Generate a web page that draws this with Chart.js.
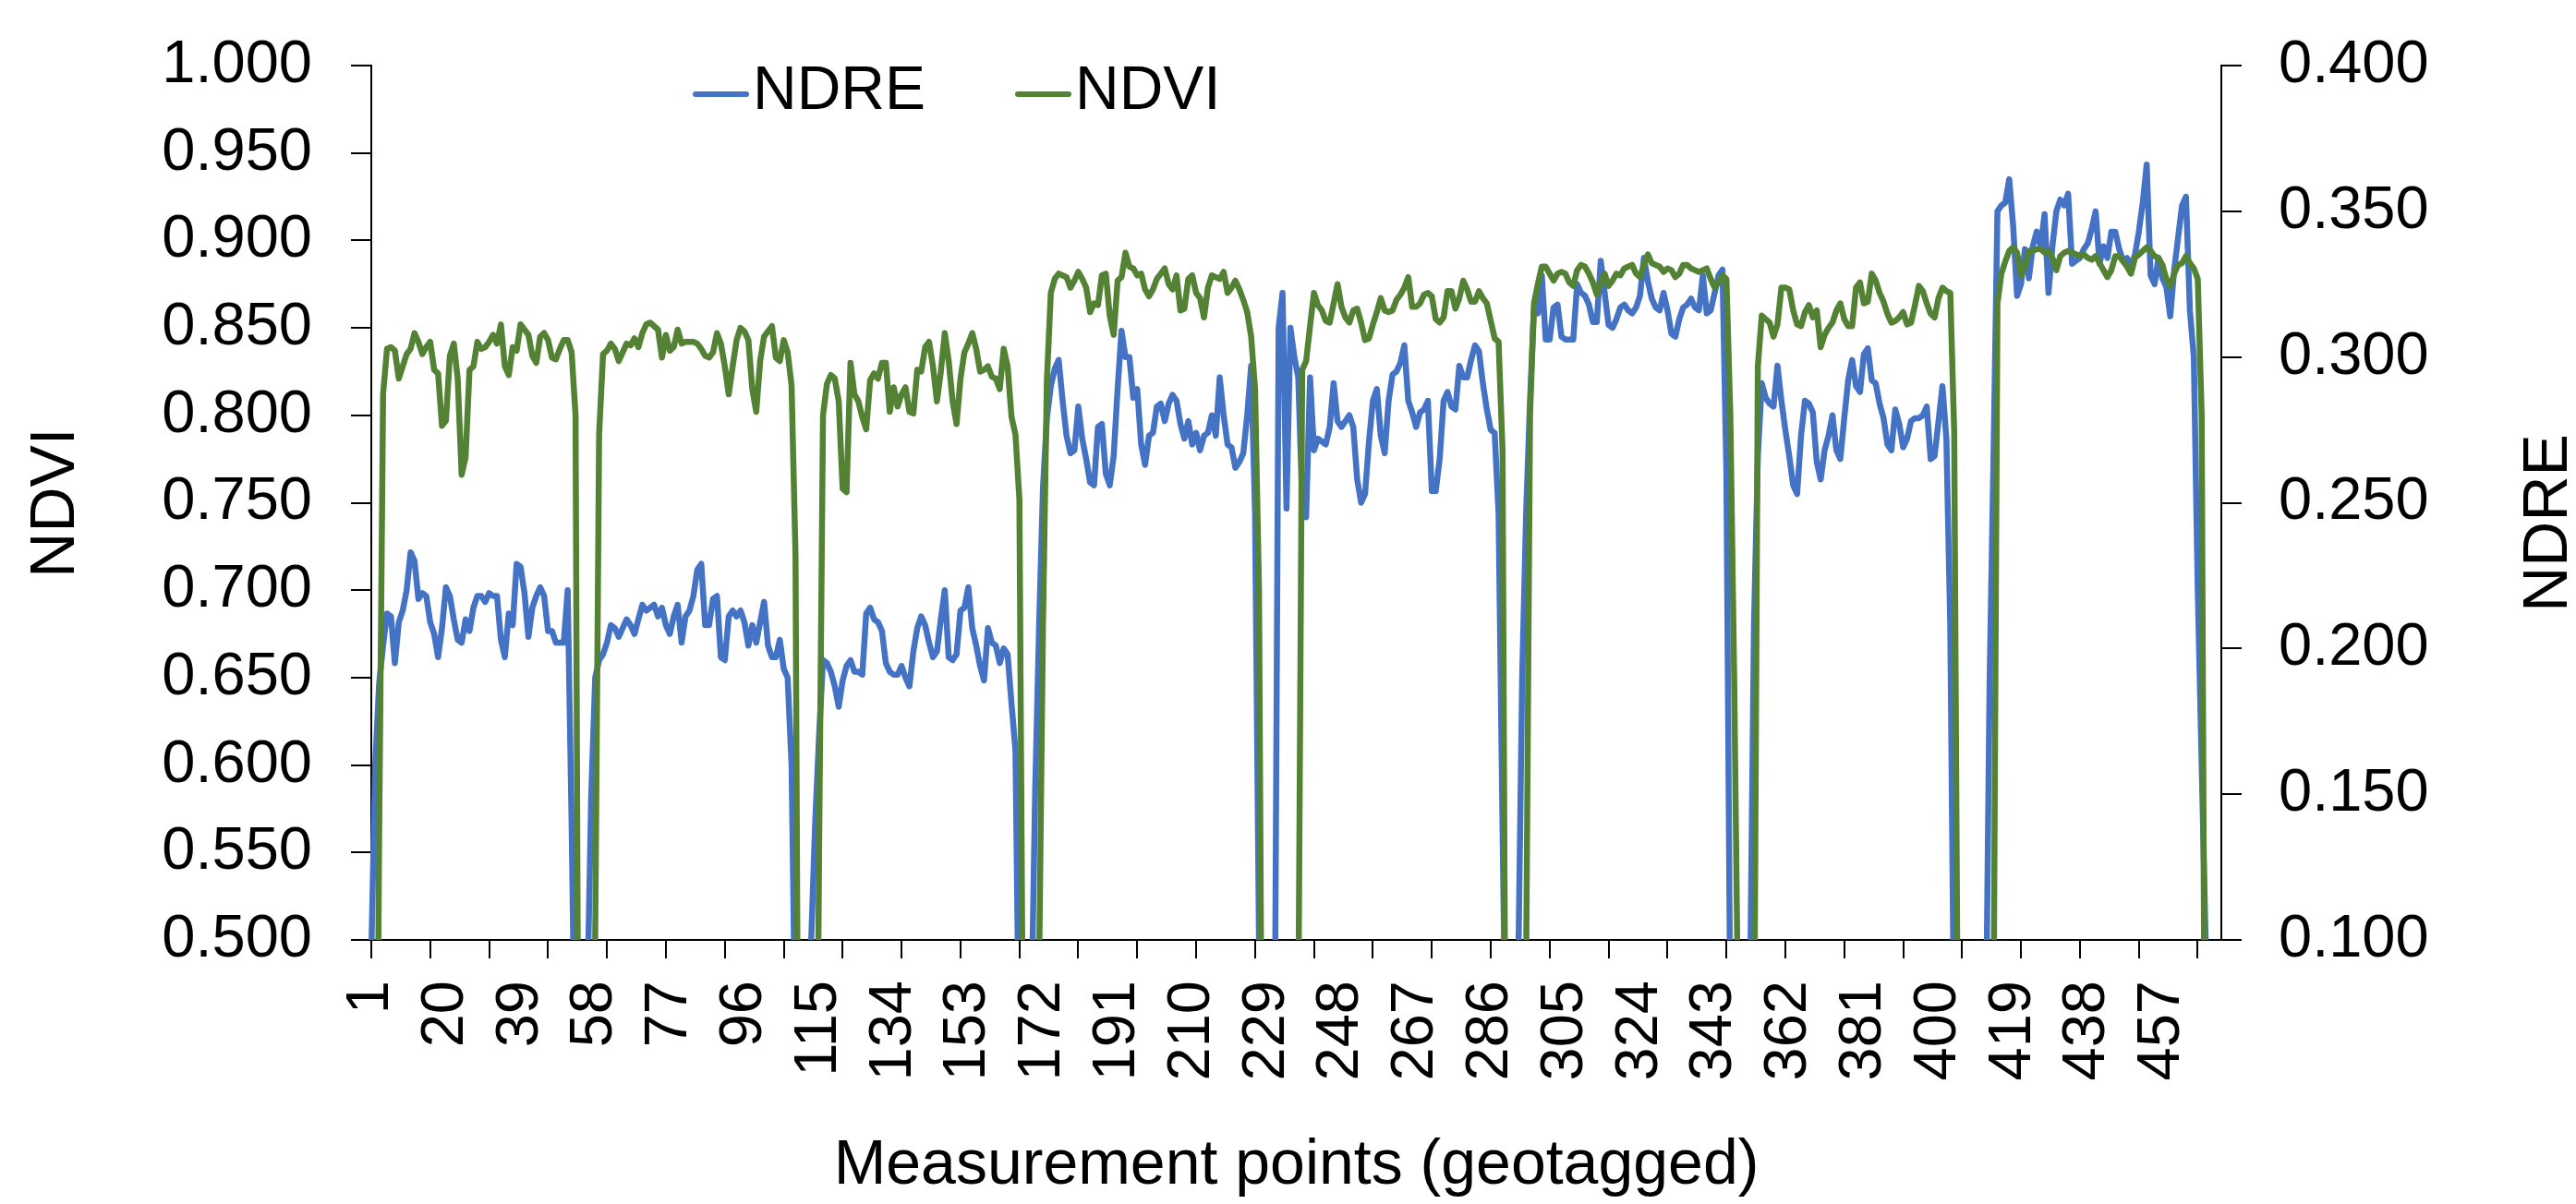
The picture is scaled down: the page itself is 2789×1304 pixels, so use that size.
<!DOCTYPE html>
<html>
<head>
<meta charset="utf-8">
<title>NDVI and NDRE along the measurement points</title>
<script src="https://cdn.jsdelivr.net/npm/chart.js@4.4.1/dist/chart.umd.min.js"></script>
<style>
  html, body { margin: 0; padding: 0; background: #fff; }
  #wrap { width: 2789px; height: 1304px; }
</style>
</head>
<body>
<div id="wrap"><canvas id="chart" width="2789" height="1304"></canvas></div>
<script>
// NDVI per geotagged point (left axis); values under 0.500 fall in the gaps between plots
const ndvi = [
  0.25, 0.25, 0.56, 0.812, 0.838, 0.839, 0.837, 0.821, 0.828, 0.835,
  0.838, 0.847, 0.842, 0.835, 0.839, 0.842, 0.826, 0.824, 0.794, 0.797,
  0.834, 0.841, 0.821, 0.766, 0.776, 0.826, 0.828, 0.842, 0.838, 0.839,
  0.842, 0.846, 0.841, 0.852, 0.828, 0.823, 0.839, 0.837, 0.852, 0.849,
  0.846, 0.834, 0.830, 0.845, 0.847, 0.843, 0.833, 0.832, 0.838, 0.843,
  0.843, 0.836, 0.800, 0.25, 0.25, 0.25, 0.25, 0.50, 0.789, 0.835,
  0.837, 0.841, 0.838, 0.831, 0.836, 0.841, 0.840, 0.844, 0.839, 0.847,
  0.852, 0.853, 0.851, 0.849, 0.833, 0.846, 0.837, 0.839, 0.849, 0.841,
  0.842, 0.842, 0.842, 0.841, 0.838, 0.834, 0.833, 0.836, 0.847, 0.841,
  0.828, 0.812, 0.828, 0.843, 0.850, 0.848, 0.843, 0.815, 0.802, 0.831,
  0.845, 0.848, 0.851, 0.833, 0.831, 0.843, 0.836, 0.817, 0.720, 0.25,
  0.25, 0.25, 0.25, 0.25, 0.55, 0.800, 0.818, 0.823, 0.821, 0.808,
  0.758, 0.756, 0.830, 0.812, 0.808, 0.799, 0.792, 0.820, 0.824, 0.821,
  0.830, 0.830, 0.802, 0.816, 0.805, 0.812, 0.816, 0.802, 0.801, 0.826,
  0.825, 0.839, 0.842, 0.828, 0.808, 0.825, 0.847, 0.831, 0.808, 0.795,
  0.821, 0.836, 0.841, 0.847, 0.838, 0.825, 0.826, 0.828, 0.822, 0.821,
  0.815, 0.838, 0.828, 0.799, 0.789, 0.752, 0.40, 0.25, 0.25, 0.25,
  0.48, 0.68, 0.82, 0.870, 0.878, 0.881, 0.880, 0.879, 0.873, 0.877,
  0.882, 0.878, 0.873, 0.859, 0.864, 0.863, 0.880, 0.881, 0.857, 0.846,
  0.877, 0.879, 0.893, 0.885, 0.884, 0.880, 0.881, 0.872, 0.868, 0.872,
  0.878, 0.881, 0.884, 0.875, 0.872, 0.880, 0.860, 0.861, 0.878, 0.880,
  0.870, 0.867, 0.856, 0.873, 0.880, 0.879, 0.878, 0.882, 0.870, 0.873,
  0.877, 0.872, 0.866, 0.859, 0.845, 0.815, 0.700, 0.30, 0.25, 0.25,
  0.25, 0.25, 0.25, 0.25, 0.25, 0.25, 0.45, 0.826, 0.831, 0.851,
  0.870, 0.863, 0.860, 0.854, 0.853, 0.864, 0.875, 0.862, 0.856, 0.853,
  0.860, 0.861, 0.853, 0.843, 0.844, 0.852, 0.859, 0.867, 0.860, 0.859,
  0.860, 0.866, 0.869, 0.873, 0.879, 0.862, 0.862, 0.864, 0.869, 0.870,
  0.868, 0.855, 0.853, 0.856, 0.871, 0.871, 0.861, 0.867, 0.877, 0.872,
  0.865, 0.865, 0.871, 0.867, 0.864, 0.854, 0.844, 0.842, 0.780, 0.30,
  0.25, 0.25, 0.25, 0.25, 0.48, 0.800, 0.864, 0.875, 0.885, 0.885,
  0.881, 0.877, 0.881, 0.882, 0.881, 0.876, 0.874, 0.883, 0.886, 0.885,
  0.881, 0.876, 0.869, 0.876, 0.881, 0.874, 0.877, 0.881, 0.880, 0.884,
  0.885, 0.886, 0.881, 0.879, 0.886, 0.892, 0.887, 0.886, 0.885, 0.882,
  0.884, 0.883, 0.879, 0.881, 0.886, 0.886, 0.884, 0.883, 0.882, 0.883,
  0.884, 0.878, 0.873, 0.876, 0.880, 0.878, 0.800, 0.646, 0.45, 0.25,
  0.25, 0.25, 0.40, 0.828, 0.857, 0.855, 0.853, 0.845, 0.852, 0.873,
  0.873, 0.872, 0.860, 0.852, 0.851, 0.859, 0.863, 0.856, 0.860, 0.839,
  0.846, 0.850, 0.853, 0.860, 0.864, 0.855, 0.851, 0.851, 0.873, 0.876,
  0.864, 0.865, 0.881, 0.877, 0.870, 0.865, 0.858, 0.853, 0.854, 0.856,
  0.859, 0.852, 0.853, 0.863, 0.874, 0.871, 0.864, 0.858, 0.856, 0.867,
  0.873, 0.871, 0.870, 0.790, 0.40, 0.25, 0.25, 0.25, 0.25, 0.25,
  0.25, 0.25, 0.25, 0.45, 0.864, 0.881, 0.888, 0.894, 0.896, 0.893,
  0.880, 0.885, 0.894, 0.894, 0.895, 0.895, 0.893, 0.894, 0.890, 0.883,
  0.891, 0.893, 0.894, 0.893, 0.892, 0.891, 0.892, 0.890, 0.889, 0.891,
  0.887, 0.883, 0.879, 0.883, 0.891, 0.891, 0.888, 0.885, 0.881, 0.890,
  0.892, 0.894, 0.896, 0.894, 0.891, 0.890, 0.886, 0.878, 0.874, 0.881,
  0.886, 0.887, 0.891, 0.887, 0.884, 0.878, 0.800, 0.30, 0.25, 0.25,
  0.25, 0.25
];

// NDRE per geotagged point (right axis)
const ndre = [
  0.095, 0.160, 0.188, 0.201, 0.212, 0.211, 0.195, 0.209, 0.213, 0.220,
  0.233, 0.230, 0.217, 0.219, 0.218, 0.209, 0.205, 0.197, 0.207, 0.221,
  0.218, 0.210, 0.203, 0.202, 0.210, 0.206, 0.214, 0.218, 0.218, 0.216,
  0.219, 0.218, 0.218, 0.203, 0.197, 0.212, 0.208, 0.229, 0.228, 0.219,
  0.204, 0.214, 0.218, 0.221, 0.218, 0.206, 0.206, 0.202, 0.202, 0.202,
  0.220, 0.140, 0.04, 0.04, 0.04, 0.08, 0.15, 0.19, 0.196, 0.198,
  0.202, 0.208, 0.207, 0.204, 0.207, 0.210, 0.208, 0.205, 0.210, 0.215,
  0.213, 0.214, 0.215, 0.211, 0.214, 0.208, 0.205, 0.211, 0.215, 0.202,
  0.211, 0.213, 0.218, 0.227, 0.229, 0.208, 0.208, 0.217, 0.218, 0.197,
  0.196, 0.211, 0.213, 0.211, 0.213, 0.209, 0.201, 0.208, 0.202, 0.209,
  0.216, 0.201, 0.197, 0.197, 0.203, 0.193, 0.190, 0.160, 0.06, 0.04,
  0.04, 0.04, 0.10, 0.14, 0.17, 0.196, 0.195, 0.192, 0.187, 0.180,
  0.189, 0.194, 0.196, 0.192, 0.192, 0.191, 0.212, 0.214, 0.210, 0.209,
  0.206, 0.195, 0.192, 0.191, 0.191, 0.194, 0.190, 0.187, 0.199, 0.207,
  0.211, 0.208, 0.202, 0.197, 0.199, 0.210, 0.220, 0.197, 0.196, 0.198,
  0.213, 0.214, 0.221, 0.207, 0.201, 0.194, 0.189, 0.207, 0.202, 0.201,
  0.195, 0.200, 0.198, 0.181, 0.165, 0.05, 0.04, 0.04, 0.07, 0.15,
  0.207, 0.255, 0.279, 0.290, 0.296, 0.299, 0.285, 0.273, 0.267, 0.268,
  0.283, 0.272, 0.265, 0.257, 0.256, 0.276, 0.277, 0.260, 0.256, 0.266,
  0.289, 0.309, 0.300, 0.300, 0.286, 0.289, 0.270, 0.263, 0.273, 0.274,
  0.283, 0.284, 0.278, 0.284, 0.287, 0.285, 0.277, 0.272, 0.278, 0.270,
  0.274, 0.268, 0.273, 0.274, 0.280, 0.273, 0.293, 0.280, 0.270, 0.269,
  0.262, 0.264, 0.267, 0.280, 0.297, 0.246, 0.10, 0.04, 0.04, 0.04,
  0.06, 0.310, 0.322, 0.248, 0.310, 0.300, 0.293, 0.250, 0.245, 0.293,
  0.268, 0.272, 0.271, 0.270, 0.276, 0.291, 0.278, 0.276, 0.278, 0.280,
  0.276, 0.258, 0.250, 0.253, 0.271, 0.285, 0.289, 0.273, 0.267, 0.285,
  0.294, 0.295, 0.298, 0.304, 0.285, 0.281, 0.276, 0.281, 0.282, 0.285,
  0.254, 0.254, 0.265, 0.285, 0.288, 0.283, 0.282, 0.297, 0.293, 0.293,
  0.299, 0.304, 0.302, 0.291, 0.282, 0.275, 0.274, 0.246, 0.139, 0.04,
  0.04, 0.04, 0.09, 0.19, 0.246, 0.285, 0.316, 0.315, 0.328, 0.306,
  0.306, 0.317, 0.318, 0.307, 0.306, 0.306, 0.306, 0.325, 0.322, 0.321,
  0.318, 0.312, 0.312, 0.333, 0.322, 0.311, 0.310, 0.313, 0.317, 0.318,
  0.316, 0.315, 0.317, 0.321, 0.334, 0.326, 0.320, 0.317, 0.316, 0.322,
  0.316, 0.308, 0.307, 0.313, 0.317, 0.318, 0.320, 0.317, 0.316, 0.328,
  0.315, 0.316, 0.322, 0.328, 0.330, 0.260, 0.07, 0.04, 0.04, 0.04,
  0.04, 0.08, 0.207, 0.266, 0.291, 0.286, 0.284, 0.283, 0.297, 0.285,
  0.275, 0.266, 0.256, 0.253, 0.273, 0.285, 0.284, 0.281, 0.264, 0.258,
  0.268, 0.273, 0.280, 0.268, 0.265, 0.279, 0.292, 0.299, 0.290, 0.288,
  0.301, 0.303, 0.292, 0.291, 0.284, 0.279, 0.270, 0.268, 0.282, 0.277,
  0.269, 0.272, 0.278, 0.279, 0.279, 0.280, 0.283, 0.265, 0.266, 0.278,
  0.290, 0.272, 0.207, 0.06, 0.04, 0.04, 0.04, 0.04, 0.04, 0.04,
  0.04, 0.06, 0.188, 0.266, 0.350, 0.352, 0.353, 0.361, 0.345, 0.321,
  0.325, 0.337, 0.327, 0.338, 0.343, 0.338, 0.349, 0.322, 0.338, 0.350,
  0.354, 0.352, 0.356, 0.332, 0.333, 0.334, 0.337, 0.339, 0.344, 0.350,
  0.332, 0.338, 0.334, 0.343, 0.343, 0.337, 0.333, 0.334, 0.331, 0.335,
  0.343, 0.353, 0.366, 0.328, 0.325, 0.334, 0.327, 0.324, 0.314, 0.330,
  0.341, 0.352, 0.355, 0.316, 0.300, 0.220, 0.160, 0.10, 0.04, 0.04,
  0.04, 0.04
];

// measurement point numbers 1..N
const points = ndvi.map((_, i) => String(i + 1));
const labelEvery = 19;   // a number is printed on every 19th point
const tickEvery = 15;    // a tick mark on every 15th point

const ndviRange = [0.5, 1.0];
const ndreRange = [0.1, 0.4];
const step = 0.05;

const FONT = '"Liberation Sans", Arial, sans-serif';
const AXIS = '#000';
const BLUE = '#4472C4';
const GREEN = '#548235';

Chart.defaults.font.family = FONT;
Chart.defaults.font.size = 65;
Chart.defaults.color = '#000';

// legend sits inside the plot, and the right title reads bottom to top like the left one
const overlay = {
  id: 'overlay',
  afterDraw(chart) {
    const { ctx, chartArea } = chart;
    ctx.save();
    ctx.font = '66px ' + FONT;
    ctx.fillStyle = '#000';
    ctx.textBaseline = 'middle';
    let x = chartArea.left + 351;
    const y = chartArea.top + 29;
    chart.data.datasets.forEach(ds => {
      ctx.strokeStyle = ds.borderColor;
      ctx.lineWidth = 6;
      ctx.lineCap = 'round';
      ctx.beginPath();
      ctx.moveTo(x, y + 2);
      ctx.lineTo(x + 55, y + 2);
      ctx.stroke();
      ctx.fillText(ds.label, x + 62, y);
      x += 62 + ctx.measureText(ds.label).width + 100;
    });
    ctx.font = '68px ' + FONT;
    ctx.translate(chart.width - 29, (chartArea.top + chartArea.bottom) / 2 + 22);
    ctx.rotate(-Math.PI / 2);
    ctx.textAlign = 'center';
    ctx.fillText('NDRE', 0, 0);
    ctx.restore();
  }
};

const tickMark = c => (c.index % tickEvery === 0 ? AXIS : 'rgba(0,0,0,0)');
// fixed axis boxes so the plot area lands where the original has it
const fixBox = size => s => {
  if (s.isHorizontal()) s.height = size; else s.width = size;
  s.paddingTop = 0; s.paddingBottom = 0; s.paddingLeft = 0; s.paddingRight = 0;
};

new Chart(document.getElementById('chart'), {
  type: 'line',
  data: {
    labels: points,
    datasets: [
      { label: 'NDRE', data: ndre, yAxisID: 'y1', borderColor: BLUE, backgroundColor: BLUE,
        borderWidth: 6.5, pointRadius: 0, tension: 0, borderJoinStyle: 'round', order: 2 },
      { label: 'NDVI', data: ndvi, yAxisID: 'y', borderColor: GREEN, backgroundColor: GREEN,
        borderWidth: 6.5, pointRadius: 0, tension: 0, borderJoinStyle: 'round', order: 1 }
    ]
  },
  options: {
    responsive: false,
    animation: false,
    events: [],
    devicePixelRatio: 1,
    layout: { padding: { top: 71, left: 0, right: 0, bottom: 0 } },
    plugins: { legend: { display: false }, tooltip: { enabled: false } },
    scales: {
      x: {
        type: 'category',
        offset: false,
        grid: { drawOnChartArea: false, tickLength: 20, lineWidth: 2, color: tickMark, tickColor: tickMark },
        border: { color: AXIS, width: 2 },
        ticks: {
          autoSkip: false, minRotation: 90, maxRotation: 90, padding: 24,
          callback: (v, i) => (i % labelEvery === 0 ? points[i] : '')
        },
        title: { display: true, text: 'Measurement points (geotagged)', font: { size: 68 }, padding: { top: 0, bottom: 0 } },
        afterFit: fixBox(286)
      },
      y: {
        position: 'left',
        min: ndviRange[0], max: ndviRange[1],
        grid: { drawOnChartArea: false, tickLength: 22, lineWidth: 2, color: AXIS },
        border: { color: AXIS, width: 2 },
        ticks: { stepSize: step, padding: 42, callback: v => v.toFixed(3) },
        title: { display: true, text: 'NDVI', font: { size: 68 }, padding: { top: 20, bottom: 0 } },
        afterFit: fixBox(402)
      },
      y1: {
        position: 'right',
        min: ndreRange[0], max: ndreRange[1],
        grid: { drawOnChartArea: false, tickLength: 22, lineWidth: 2, color: AXIS },
        border: { color: AXIS, width: 2 },
        ticks: { stepSize: step, padding: 40, callback: v => v.toFixed(3) },
        afterFit: fixBox(384)
      }
    }
  },
  plugins: [overlay]
});
</script>
</body>
</html>
